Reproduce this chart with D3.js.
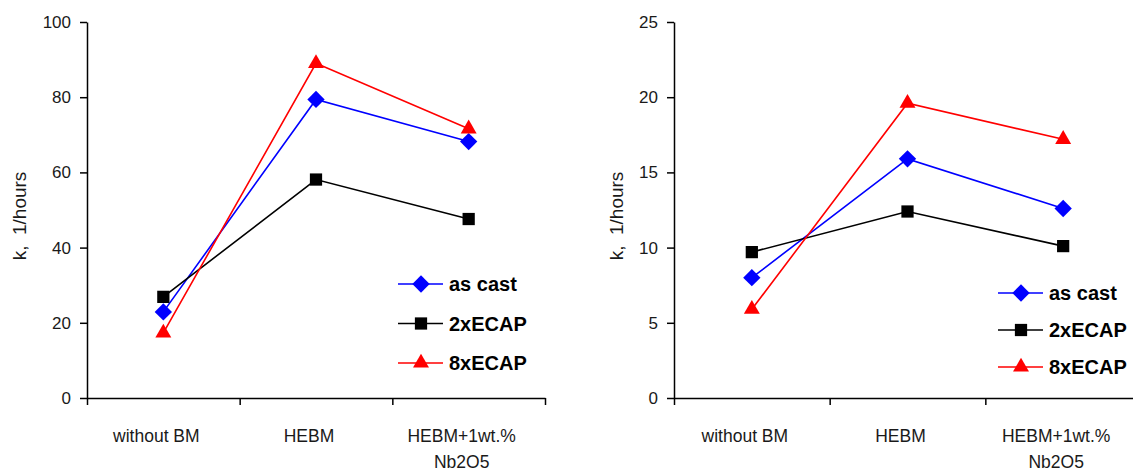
<!DOCTYPE html>
<html>
<head>
<meta charset="utf-8">
<script src="https://cdn.jsdelivr.net/npm/d3@7"></script>
<style>
  body { margin: 0; background: #fff; }
  svg { display: block; font-family: "Liberation Sans", Arial, sans-serif; }
  .axis path, .axis line { stroke: #000; stroke-width: 1.5px; }
  .axis text { font-size: 17px; fill: #1a1a1a; }
</style>
</head>
<body>
<div id="canvas"></div>
<script>
// categories and series
const categories = ["without BM", "HEBM", "HEBM+1wt.% Nb2O5"];
const categoryLines = [["without BM"], ["HEBM"], ["HEBM+1wt.%", "Nb2O5"]];
const seriesNames = ["as cast", "2xECAP", "8xECAP"];

// left chart values (k, 1/hours)
const leftAsCast = [22.9, 79.4, 68.2];
const left2xECAP = [26.9, 58.1, 47.6];
const left8xECAP = [17.3, 89.0, 71.6];
const leftTicks = [0, 20, 40, 60, 80, 100];

// right chart values (k, 1/hours)
const rightAsCast = [8.0, 15.9, 12.6];
const right2xECAP = [9.7, 12.4, 10.1];
const right8xECAP = [5.9, 19.6, 17.2];
const rightTicks = [0, 5, 10, 15, 20, 25];

const colors = ["#0000ff", "#000000", "#ff0000"];
const shapes = ["diamond", "square", "triangle"];

const width = 1133;
const height = 470;

const svg = d3.select("#canvas").append("svg")
    .attr("width", width)
    .attr("height", height);

function marker(sel, shape, color) {
    if (shape === "diamond") {
        sel.append("path")
            .attr("d", d3.symbol(d3.symbolSquare, 150)())
            .attr("transform", "rotate(45)")
            .attr("fill", color);
    } else if (shape === "square") {
        sel.append("path")
            .attr("d", d3.symbol(d3.symbolSquare, 150)())
            .attr("fill", color);
    } else {
        sel.append("path")
            .attr("d", d3.symbol(d3.symbolTriangle, 110)())
            .attr("fill", color);
    }
}

function drawPanel(opts) {
    const g = svg.append("g").attr("transform", `translate(${opts.left},22)`);
    const iheight = 376;

    const y = d3.scaleLinear()
        .domain([0, d3.max(opts.ticks)])
        .range([iheight, 0]);

    const x = d3.scaleBand()
        .domain(categories)
        .range([0, opts.w]);

    const xEdge = d3.scaleLinear()
        .domain([0, categories.length])
        .range([0, opts.w]);

    g.append("g")
        .attr("class", "axis")
        .attr("transform", `translate(0,${iheight})`)
        .call(d3.axisBottom(xEdge)
            .tickValues(d3.range(categories.length + 1))
            .tickFormat("")
            .tickSize(7)
            .tickSizeOuter(0));

    g.append("g")
        .attr("class", "axis")
        .call(d3.axisLeft(y)
            .tickValues(opts.ticks)
            .tickSize(7)
            .tickPadding(9)
            .tickSizeOuter(0));

    // category labels, wrapped
    categories.forEach((c, i) => {
        const cx = x(c) + x.bandwidth() / 2 - 7;
        const t = g.append("text")
            .attr("x", cx)
            .attr("y", iheight + 44)
            .attr("text-anchor", "middle")
            .style("font-size", "17.5px")
            .style("fill", "#1a1a1a");
        categoryLines[i].forEach((line, j) => {
            t.append("tspan")
                .attr("x", cx)
                .attr("dy", j === 0 ? 0 : 26)
                .text(line);
        });
    });

    // axis title
    g.append("text")
        .attr("transform", `translate(${opts.titleX},${iheight / 2 + 6}) rotate(-90)`)
        .attr("text-anchor", "middle")
        .attr("dominant-baseline", "central")
        .style("font-size", "19px")
        .style("fill", "#1a1a1a")
        .style("white-space", "pre")
        .text("k,  1/hours");

    const line = d3.line()
        .x((d, i) => x(categories[i]) + x.bandwidth() / 2)
        .y(d => y(d));

    opts.series.forEach((vals, s) => {
        g.append("path")
            .datum(vals)
            .attr("fill", "none")
            .attr("stroke", colors[s])
            .attr("stroke-width", 1.6)
            .attr("d", line);
    });
    opts.series.forEach((vals, s) => {
        vals.forEach((v, i) => {
            const m = g.append("g")
                .attr("transform", `translate(${x(categories[i]) + x.bandwidth() / 2},${y(v)})`);
            marker(m, shapes[s], colors[s]);
        });
    });

    // legend
    seriesNames.forEach((name, s) => {
        const ly = opts.legendY + s * opts.legendStep;
        const lg = svg.append("g").attr("transform", `translate(${opts.legendX},${ly})`);
        lg.append("line")
            .attr("x1", 0).attr("x2", 45)
            .attr("stroke", colors[s])
            .attr("stroke-width", 1.6);
        const m = lg.append("g").attr("transform", "translate(23,0)");
        marker(m, shapes[s], colors[s]);
        lg.append("text")
            .attr("x", 51)
            .attr("y", 7)
            .style("font-size", "20px")
            .style("font-weight", "bold")
            .style("fill", "#000")
            .text(name);
    });
}

drawPanel({
    left: 87, w: 458, ticks: leftTicks, titleX: -68,
    series: [leftAsCast, left2xECAP, left8xECAP],
    legendX: 398, legendY: 284, legendStep: 39.5
});

drawPanel({
    left: 674, w: 467, ticks: rightTicks, titleX: -58,
    series: [rightAsCast, right2xECAP, right8xECAP],
    legendX: 998, legendY: 293, legendStep: 37
});
</script>
</body>
</html>
